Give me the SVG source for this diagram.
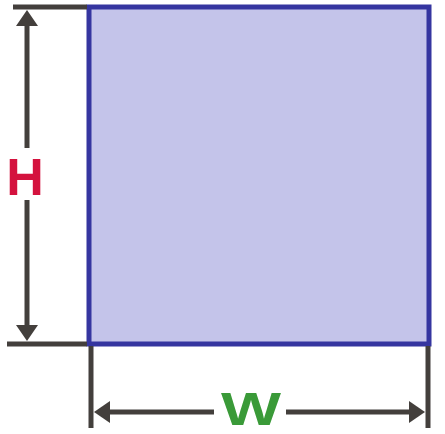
<svg xmlns="http://www.w3.org/2000/svg" width="445" height="434" viewBox="0 0 445 434">
<style>
.dim{stroke:#433f3c;stroke-width:5;fill:none}
.head{fill:#433f3c}
.lbl{font-family:"Liberation Sans",Arial,sans-serif;font-weight:bold;text-anchor:middle}
</style>
<rect width="445" height="434" fill="#ffffff"/>
<g id="square">
<rect x="89" y="7" width="340" height="337" fill="#c4c4ea" stroke="#3535a0" stroke-width="5"/>
</g>
<g id="connectors">
<line class="dim" x1="13" y1="7" x2="87" y2="7"/>
<line class="dim" x1="7" y1="344" x2="87" y2="344"/>
<line class="dim" x1="91" y1="346" x2="91" y2="428"/>
<line class="dim" x1="428" y1="346" x2="428" y2="428"/>
<line class="dim" x1="27" y1="22" x2="27" y2="148"/>
<line class="dim" x1="27" y1="200" x2="27" y2="326"/>
<polygon class="head" points="27,10 16,26 38,26"/>
<polygon class="head" points="27,341 16,325 38,325"/>
<line class="dim" x1="108" y1="412" x2="214" y2="412"/>
<line class="dim" x1="286" y1="412" x2="411" y2="412"/>
<polygon class="head" points="94,412 110,401 110,423"/>
<polygon class="head" points="425,412 409,401 409,423"/>
</g>
<g id="label-h">
<text class="lbl" x="25" y="195" font-size="52" fill="#d4123e">H</text>
</g>
<g id="label-w">
<text class="lbl" x="251" y="425" font-size="46" fill="#3a9a38" textLength="60" lengthAdjust="spacingAndGlyphs">W</text>
</g>
</svg>
